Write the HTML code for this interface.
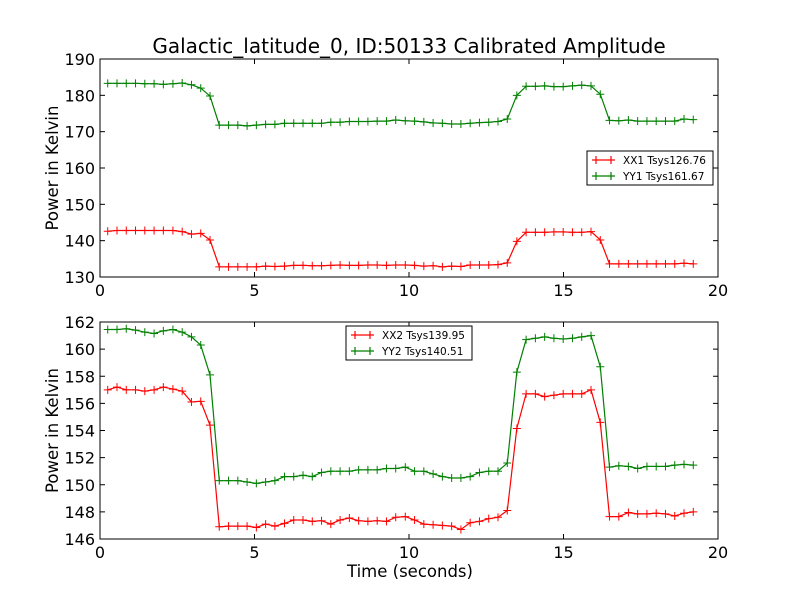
<!DOCTYPE html>
<html><head><meta charset="utf-8"><style>
body{margin:0;background:#fff;}
svg{display:block;font-family:"DejaVu Sans","Liberation Sans",sans-serif;}
</style></head><body>
<svg id="chart" width="800" height="600" viewBox="0 0 800 600" xmlns="http://www.w3.org/2000/svg">
<rect width="800" height="600" fill="#fff"/>
<text x="409" y="53" font-size="20" text-anchor="middle">Galactic_latitude_0, ID:50133 Calibrated Amplitude</text>
<g id="top"></g><g id="bot"></g>
<text x="410" y="577" font-size="16.5" text-anchor="middle">Time (seconds)</text>
</svg>
<script>
const times=[0.25,0.55,0.85,1.15,1.45,1.75,2.05,2.36,2.66,2.96,3.26,3.56,3.86,4.16,4.46,4.76,5.06,5.36,5.66,5.97,6.27,6.57,6.87,7.17,7.47,7.77,8.07,8.37,8.67,8.97,9.27,9.57,9.88,10.18,10.48,10.78,11.08,11.38,11.68,11.98,12.28,12.58,12.88,13.18,13.49,13.79,14.09,14.39,14.69,14.99,15.29,15.59,15.89,16.19,16.49,16.79,17.10,17.40,17.70,18.00,18.30,18.60,18.90,19.20];
const xx1=[142.6,142.8,142.8,142.8,142.8,142.8,142.8,142.8,142.5,141.8,142.0,140.2,132.8,132.8,132.8,132.8,132.8,133.0,132.9,133.0,133.2,133.2,133.1,133.1,133.2,133.3,133.2,133.2,133.3,133.3,133.2,133.3,133.3,133.2,133.0,133.1,132.8,133.0,132.9,133.3,133.3,133.3,133.4,133.9,139.8,142.3,142.3,142.3,142.4,142.4,142.3,142.3,142.5,140.2,133.6,133.6,133.6,133.6,133.6,133.6,133.6,133.6,133.8,133.6];
const yy1=[183.3,183.3,183.3,183.3,183.2,183.2,183.0,183.2,183.4,182.9,182.0,179.8,171.8,171.8,171.8,171.6,171.8,172.0,172.0,172.3,172.3,172.3,172.3,172.3,172.6,172.6,172.8,172.8,172.8,172.9,172.9,173.2,173.0,172.9,172.7,172.4,172.3,172.1,172.1,172.3,172.5,172.6,172.8,173.5,180.0,182.5,182.5,182.6,182.4,182.4,182.6,182.8,182.6,180.3,173.1,173.0,173.2,172.9,172.9,172.9,172.9,172.9,173.5,173.3];
const xx2=[157.0,157.2,157.0,157.0,156.9,157.0,157.2,157.05,156.9,156.1,156.15,154.4,146.9,146.95,146.95,146.95,146.85,147.1,146.95,147.15,147.4,147.4,147.3,147.35,147.1,147.4,147.55,147.35,147.3,147.35,147.3,147.6,147.65,147.4,147.1,147.05,147.0,146.95,146.7,147.2,147.3,147.5,147.6,148.1,154.15,156.7,156.7,156.5,156.6,156.7,156.7,156.7,157.0,154.6,147.65,147.65,147.95,147.85,147.85,147.9,147.85,147.7,147.9,148.0];
const yy2=[161.45,161.45,161.5,161.4,161.25,161.15,161.35,161.45,161.25,160.9,160.3,158.1,150.3,150.3,150.3,150.2,150.1,150.2,150.3,150.6,150.6,150.7,150.6,150.9,151.0,151.0,151.0,151.1,151.1,151.1,151.2,151.2,151.3,151.0,151.0,150.8,150.6,150.5,150.5,150.6,150.9,151.0,151.0,151.6,158.3,160.7,160.8,160.9,160.8,160.75,160.8,160.9,161.0,158.7,151.3,151.4,151.35,151.2,151.35,151.35,151.35,151.45,151.5,151.45];
const xTicks=[0,5,10,15,20];
const yTicksTop=[130,140,150,160,170,180,190];
const yTicksBot=[146,148,150,152,154,156,158,160,162];
const legendTop=["XX1 Tsys126.76","YY1 Tsys161.67"];
const legendBot=["XX2 Tsys139.95","YY2 Tsys140.51"];
const NS="http://www.w3.org/2000/svg";
function mk(p,tag,at){const e=document.createElementNS(NS,tag);for(const k in at)e.setAttribute(k,at[k]);p.appendChild(e);return e;}
function panel(g,name,top,bottom,yMin,yMax,yTicks,series,leg,lx,ly){
  const L=100,R=718;
  const sx=v=>L+(v-0)/(20-0)*(R-L);
  const sy=v=>bottom-(v-yMin)/(yMax-yMin)*(bottom-top);
  xTicks.forEach(t=>{
    const a=mk(g,'line',{x1:sx(t),x2:sx(t),y1:bottom,y2:bottom-5,stroke:'#000'});
    
    const b=mk(g,'line',{x1:sx(t),x2:sx(t),y1:top,y2:top+5,stroke:'#000'});
    
    const tx=mk(g,'text',{x:sx(t),y:bottom+19,'font-size':16,'text-anchor':'middle'});tx.textContent=t;
    
  });
  yTicks.forEach(t=>{
    const a=mk(g,'line',{x1:L,x2:L+5,y1:sy(t),y2:sy(t),stroke:'#000'});
    
    const b=mk(g,'line',{x1:R,x2:R-5,y1:sy(t),y2:sy(t),stroke:'#000'});
    
    const tx=mk(g,'text',{x:L-5,y:sy(t)+6,'font-size':16,'text-anchor':'end'});tx.textContent=t;
    
  });
  const yl=mk(g,'text',{x:0,y:0,'font-size':16.5,'text-anchor':'middle',transform:`translate(58,${(top+bottom)/2}) rotate(-90)`});
  yl.textContent='Power in Kelvin';
  
  series.forEach(([vals,col,sname])=>{
    const pts=vals.map((v,i)=>sx(times[i]).toFixed(1)+','+sy(v).toFixed(1)).join(' ');
    const pl=mk(g,'polyline',{points:pts,fill:'none',stroke:col,'stroke-width':1.2});
    
    vals.forEach((v,i)=>{
      const x=sx(times[i]),y=sy(v);
      const m=mk(g,'path',{d:`M${x-4},${y}H${x+4}M${x},${y-4}V${y+4}`,stroke:col,'stroke-width':1});
      
    });
  });
  const fr=mk(g,'rect',{x:L,y:top,width:R-L,height:bottom-top,fill:'none',stroke:'#000','stroke-width':1});
  
  const lg=mk(g,'g',{});
  
  mk(lg,'rect',{x:lx,y:ly,width:126,height:34,fill:'#fff',stroke:'#000','stroke-width':1});
  ['#ff0000','#008000'].forEach((c,i)=>{
    const y=ly+9+i*16;
    const e=mk(lg,'path',{d:`M${lx+5},${y}H${lx+28}M${lx+9},${y-4}V${y+4}M${lx+24},${y-4}V${y+4}`,stroke:c,'stroke-width':1.2});
    
    const t=mk(lg,'text',{x:lx+36,y:y+4,'font-size':10.5});t.textContent=leg[i];
    
  });
}
const gt=document.getElementById('top');

const gb=document.getElementById('bot');

panel(gt,'top-panel',59,277,130,190,yTicksTop,[[xx1,'#ff0000','xx1'],[yy1,'#008000','yy1']],legendTop,587,151);
panel(gb,'bottom-panel',322,539,146,162,yTicksBot,[[xx2,'#ff0000','xx2'],[yy2,'#008000','yy2']],legendBot,346,326);
</script>
</body></html>
